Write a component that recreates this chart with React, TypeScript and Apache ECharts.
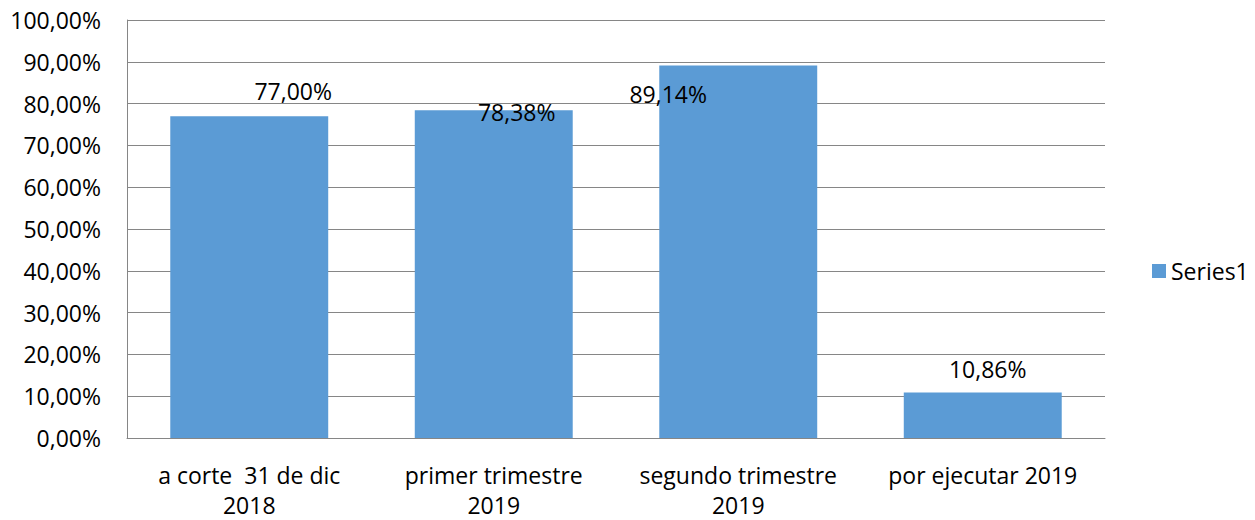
import React, { useEffect, useRef } from "react";
import * as echarts from "echarts";

const categories = [
  "a corte  31 de dic\n2018",
  "primer trimestre\n2019",
  "segundo trimestre\n2019",
  "por ejecutar 2019",
];
const values = [0.77, 0.7838, 0.8914, 0.1086];
const seriesName = "Series1";

// label placement (as in the reference, manually moved labels)
const labelOffsets: [number, number][] = [
  [44, -25],
  [23, 2],
  [-70, 29],
  [5, -24],
];

const FONT = "'Open Sans', sans-serif";
const FS = 23;

function fmt(v: number): string {
  return (v * 100).toFixed(2).replace(".", ",") + "%";
}

export default function App() {
  const ref = useRef<HTMLDivElement>(null);
  useEffect(() => {
    document.body.style.margin = "0";
    const chart = echarts.init(ref.current!, null, { renderer: "svg" });
    chart.setOption({
      animation: false,
      backgroundColor: "#ffffff",
      textStyle: { fontFamily: FONT },
      grid: { left: 127, right: 150, top: 20, bottom: 78 },
      legend: {
        data: [seriesName],
        orient: "vertical",
        left: 1147,
        top: 254,
        icon: "rect",
        itemWidth: 14,
        itemHeight: 14,
        itemGap: 5,
        textStyle: { fontFamily: FONT, fontSize: FS, color: "#000", lineHeight: 24 },
      },
      xAxis: {
        type: "category",
        data: categories,
        axisLine: { show: true, lineStyle: { color: "#868686", width: 1 } },
        axisTick: { show: false },
        axisLabel: {
          color: "#000",
          fontFamily: FONT,
          fontSize: FS,
          lineHeight: 30,
          margin: 22,
          interval: 0,
        },
      },
      yAxis: {
        type: "value",
        min: 0,
        max: 1,
        interval: 0.1,
        axisLine: { show: true, lineStyle: { color: "#868686", width: 1 } },
        axisTick: { show: false },
        splitLine: { show: true, lineStyle: { color: "#868686", width: 1 } },
        axisLabel: {
          color: "#000",
          fontFamily: FONT,
          fontSize: FS,
          margin: 26,
          formatter: (v: number) => fmt(v),
        },
      },
      series: [
        {
          name: seriesName,
          type: "bar",
          barWidth: "64.6%",
          itemStyle: { color: "#5B9BD5" },
          data: values.map((v, i) => ({
            value: v,
            label: {
              show: true,
              position: ["50%", 0],
              align: "center",
              verticalAlign: "middle",
              offset: labelOffsets[i],
              formatter: () => fmt(v),
              color: "#000",
              fontFamily: FONT,
              fontSize: FS,
            },
          })),
        },
      ],
    });
    return () => chart.dispose();
  }, []);
  return <div ref={ref} style={{ width: 1255, height: 520 }} />;
}
